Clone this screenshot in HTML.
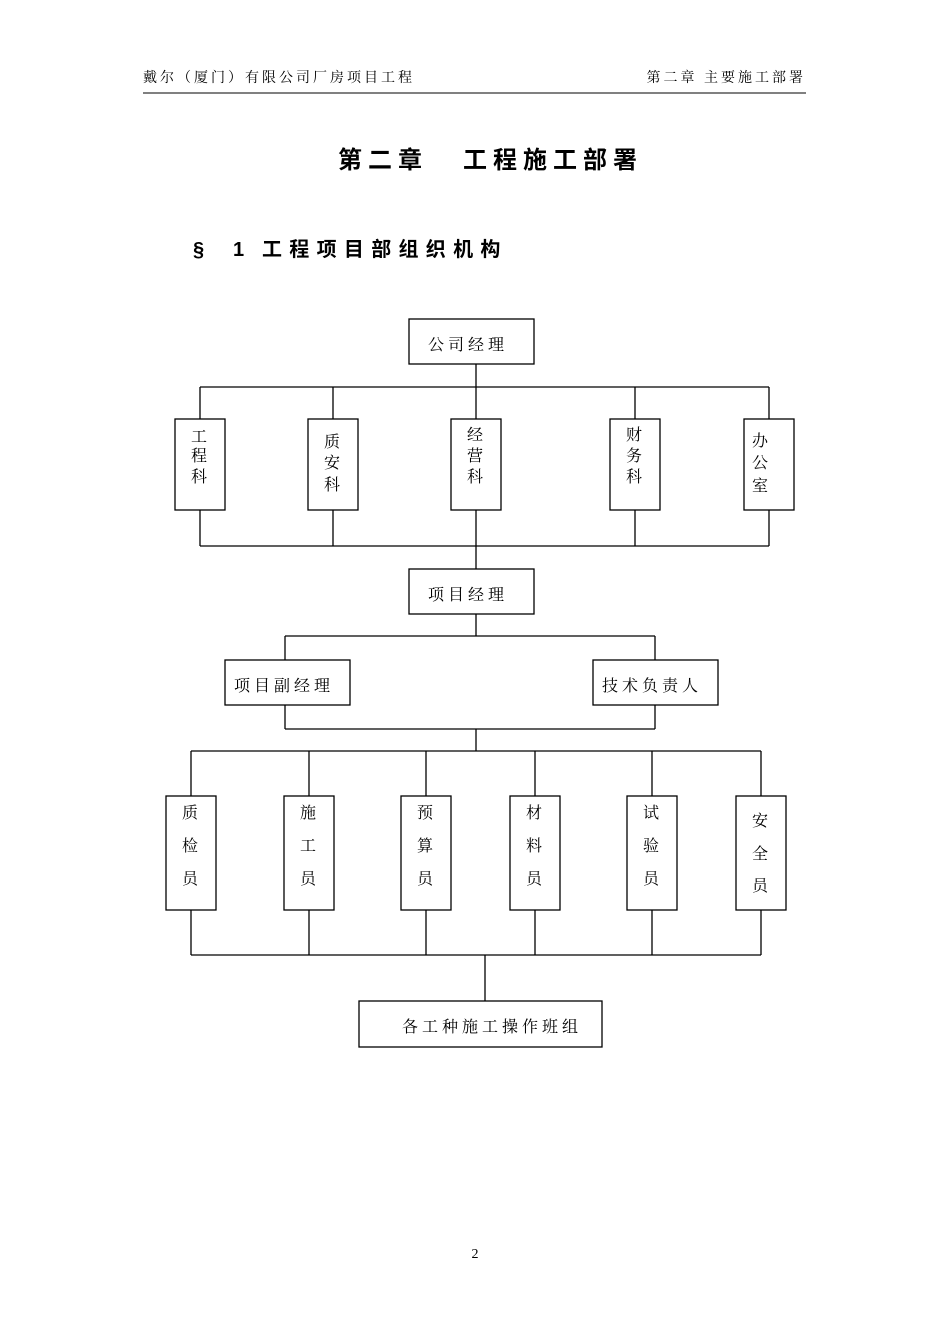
<!DOCTYPE html>
<html><head><meta charset="utf-8"><style>
html,body{margin:0;padding:0;background:#fff;}
svg{display:block;}
text{font-family:"Liberation Serif","Noto Serif CJK SC","Noto Sans CJK SC",serif;fill:#000;}
.h{font-family:"Liberation Sans","Noto Sans CJK SC",sans-serif;font-weight:bold;}
</style></head><body>
<svg width="950" height="1344" viewBox="0 0 950 1344" xmlns="http://www.w3.org/2000/svg">
<text x="143" y="82" font-size="14" letter-spacing="3">戴尔（厦门）有限公司厂房项目工程</text>
<text x="806" y="82" font-size="14" letter-spacing="3" text-anchor="end">第二章  主要施工部署</text>
<line x1="143" y1="93" x2="806" y2="93" stroke="#000" stroke-width="1"/>
<text class="h" x="338" y="168" font-size="24" letter-spacing="6">第二章</text>
<text class="h" x="463" y="168" font-size="24" letter-spacing="6">工程施工部署</text>
<text class="h" x="193" y="256" font-size="20">§</text>
<text class="h" x="233" y="256" font-size="20">1</text>
<text class="h" x="262" y="256" font-size="20" letter-spacing="7.3">工程项目部组织机构</text>
<g stroke="#000" stroke-width="1.3" fill="#fff">
<line x1="476" y1="364" x2="476" y2="419"/>
<line x1="200" y1="387" x2="769" y2="387"/>
<line x1="200" y1="387" x2="200" y2="546"/>
<line x1="333" y1="387" x2="333" y2="546"/>
<line x1="635" y1="387" x2="635" y2="546"/>
<line x1="769" y1="387" x2="769" y2="546"/>
<line x1="476" y1="510" x2="476" y2="569"/>
<line x1="200" y1="546" x2="769" y2="546"/>
<line x1="476" y1="614" x2="476" y2="636"/>
<line x1="285" y1="636" x2="655" y2="636"/>
<line x1="285" y1="636" x2="285" y2="729"/>
<line x1="655" y1="636" x2="655" y2="729"/>
<line x1="285" y1="729" x2="655" y2="729"/>
<line x1="476" y1="729" x2="476" y2="751"/>
<line x1="191" y1="751" x2="761" y2="751"/>
<line x1="191" y1="955" x2="761" y2="955"/>
<line x1="191" y1="751" x2="191" y2="955"/>
<line x1="309" y1="751" x2="309" y2="955"/>
<line x1="426" y1="751" x2="426" y2="955"/>
<line x1="535" y1="751" x2="535" y2="955"/>
<line x1="652" y1="751" x2="652" y2="955"/>
<line x1="761" y1="751" x2="761" y2="955"/>
<line x1="485" y1="955" x2="485" y2="1001"/>
<rect x="409" y="319" width="125" height="45"/>
<rect x="175" y="419" width="50" height="91"/>
<rect x="308" y="419" width="50" height="91"/>
<rect x="451" y="419" width="50" height="91"/>
<rect x="610" y="419" width="50" height="91"/>
<rect x="744" y="419" width="50" height="91"/>
<rect x="409" y="569" width="125" height="45"/>
<rect x="225" y="660" width="125" height="45"/>
<rect x="593" y="660" width="125" height="45"/>
<rect x="166" y="796" width="50" height="114"/>
<rect x="284" y="796" width="50" height="114"/>
<rect x="401" y="796" width="50" height="114"/>
<rect x="510" y="796" width="50" height="114"/>
<rect x="627" y="796" width="50" height="114"/>
<rect x="736" y="796" width="50" height="114"/>
<rect x="359" y="1001" width="243" height="46"/>
</g>
<g font-size="16" letter-spacing="4">
<text x="428" y="350">公司经理</text>
<text x="428" y="600">项目经理</text>
<text x="234" y="691">项目副经理</text>
<text x="602" y="691">技术负责人</text>
<text x="402" y="1032">各工种施工操作班组</text>
</g>
<g font-size="16" text-anchor="middle">
<text x="199" y="442">工</text><text x="199" y="461">程</text><text x="199" y="482">科</text>
<text x="332" y="447">质</text><text x="332" y="468">安</text><text x="332" y="490">科</text>
<text x="475" y="440">经</text><text x="475" y="461">营</text><text x="475" y="482">科</text>
<text x="634" y="440">财</text><text x="634" y="461">务</text><text x="634" y="482">科</text>
<text x="760" y="446">办</text><text x="760" y="468">公</text><text x="760" y="491">室</text>
<text x="190" y="818">质</text><text x="190" y="851">检</text><text x="190" y="884">员</text>
<text x="308" y="818">施</text><text x="308" y="851">工</text><text x="308" y="884">员</text>
<text x="425" y="818">预</text><text x="425" y="851">算</text><text x="425" y="884">员</text>
<text x="534" y="818">材</text><text x="534" y="851">料</text><text x="534" y="884">员</text>
<text x="651" y="818">试</text><text x="651" y="851">验</text><text x="651" y="884">员</text>
<text x="760" y="826">安</text><text x="760" y="859">全</text><text x="760" y="891">员</text>
</g>
<text x="475" y="1258" font-size="14" text-anchor="middle">2</text>
</svg>
</body></html>
